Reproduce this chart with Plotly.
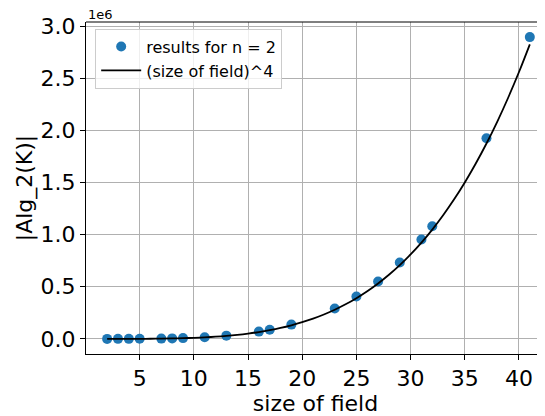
import plotly.graph_objects as go

field_sizes = [2, 3, 4, 5, 7, 8, 9, 11, 13, 16, 17, 19, 23, 25, 27, 29, 31, 32, 37, 41]
alg_sizes = [24, 108, 320, 750, 2700, 4600, 7300, 16000, 31000, 70000, 88000, 137000,
             292000, 406000, 551000, 732000, 953000, 1081000, 1925000, 2895000]
curve_x = list(range(2, 42))
curve_y = [q ** 4 for q in curve_x]

fig = go.Figure()
fig.add_trace(go.Scatter(x=field_sizes, y=alg_sizes, mode="markers",
                         marker=dict(color="#1f77b4", size=10),
                         name="results for n = 2"))
fig.add_trace(go.Scatter(x=curve_x, y=curve_y, mode="lines", line=dict(color="black", width=1.8, shape="spline"),
                         name="(size of field)^4"))

W, H = 537, 408
fig.update_layout(
    width=W, height=H,
    margin=dict(l=78, r=0, t=14, b=62),
    paper_bgcolor="white", plot_bgcolor="white",
    font=dict(family="DejaVu Sans", color="black"),
    showlegend=True,
    legend=dict(x=0.02, y=0.98, xanchor="left", yanchor="top",
                bgcolor="rgba(255,255,255,0.8)", bordercolor="#cccccc", borderwidth=1,
                font=dict(size=16, family="DejaVu Sans"), tracegroupgap=0, itemwidth=40),
    xaxis=dict(range=[0.05, 42.4], tickvals=[5, 10, 15, 20, 25, 30, 35, 40],
               showgrid=True, gridcolor="#b0b0b0", gridwidth=1,
               showline=True, linecolor="black", linewidth=1, mirror=False,
               ticks="outside", ticklen=5, tickcolor="black", tickfont=dict(size=22),
               title=dict(text="size of field", font=dict(size=22), standoff=0),
               zeroline=False),
    yaxis=dict(range=[-145000, 3040000], tickvals=[0, 500000, 1000000, 1500000, 2000000, 2500000, 3000000],
               ticktext=["0.0", "0.5", "1.0", "1.5", "2.0", "2.5", "3.0"],
               showgrid=True, gridcolor="#b0b0b0", gridwidth=1,
               showline=True, linecolor="black", linewidth=1, mirror=False,
               ticks="outside", ticklen=5, tickcolor="black", tickfont=dict(size=22),
               title=dict(text="|Alg_2(K)|", font=dict(size=22), standoff=1),
               zeroline=False),
    shapes=[dict(type="line", xref="paper", yref="paper", x0=0, x1=1, y0=1, y1=1,
                 line=dict(color="black", width=1))],
    annotations=[dict(text="1e6", xref="paper", yref="paper", x=0, y=1, xanchor="left",
                      yanchor="bottom", showarrow=False, font=dict(size=13), yshift=-2)],
)
fig.write_html("out.html")
